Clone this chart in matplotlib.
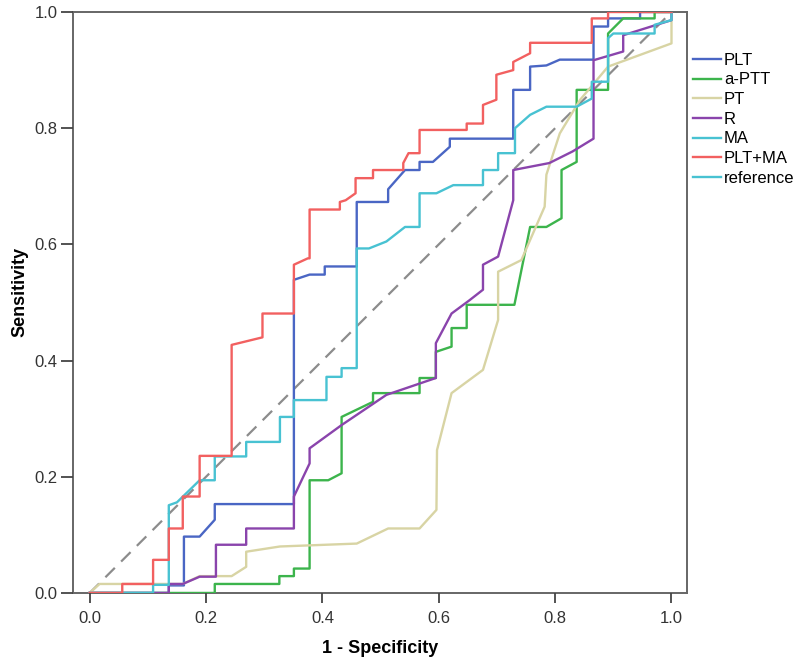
#ROC curves for PLT, a-PTT, PT, R, MA and PLT+MA
import matplotlib.pyplot as plt
from matplotlib.lines import Line2D

plt.rcParams['font.family'] = ['Liberation Sans', 'DejaVu Sans']

#points (1 - specificity, sensitivity)
plt_x = [0, 0.136, 0.136, 0.162, 0.162, 0.189, 0.215, 0.215, 0.351, 0.351, 0.378, 0.404, 0.404,
         0.459, 0.459, 0.513, 0.513, 0.542, 0.567, 0.567, 0.590, 0.619, 0.619, 0.728, 0.728,
         0.757, 0.757, 0.785, 0.808, 0.866, 0.866, 0.891, 0.891, 0.946, 0.946, 1.0]
plt_y = [0, 0, 0.013, 0.013, 0.097, 0.097, 0.126, 0.153, 0.153, 0.539, 0.548, 0.548, 0.562,
         0.562, 0.673, 0.673, 0.695, 0.728, 0.728, 0.742, 0.742, 0.768, 0.782, 0.782, 0.866,
         0.866, 0.906, 0.908, 0.918, 0.918, 0.975, 0.975, 0.989, 0.989, 1.0, 1.0]

aptt_x = [0, 0.215, 0.215, 0.326, 0.326, 0.351, 0.351, 0.378, 0.378, 0.410, 0.433, 0.433,
          0.487, 0.487, 0.567, 0.567, 0.595, 0.595, 0.622, 0.622, 0.648, 0.648, 0.730, 0.757,
          0.785, 0.811, 0.811, 0.837, 0.837, 0.891, 0.891, 0.917, 0.971, 0.971, 1.0]
aptt_y = [0, 0, 0.0155, 0.0155, 0.029, 0.029, 0.042, 0.042, 0.194, 0.194, 0.206, 0.303,
          0.329, 0.344, 0.344, 0.370, 0.370, 0.415, 0.424, 0.456, 0.456, 0.496, 0.496, 0.630,
          0.630, 0.645, 0.728, 0.742, 0.866, 0.866, 0.963, 0.989, 0.989, 1.0, 1.0]

pt_x = [0, 0.017, 0.160, 0.189, 0.244, 0.269, 0.269, 0.327, 0.459, 0.513, 0.567, 0.596,
        0.597, 0.622, 0.676, 0.702, 0.702, 0.742, 0.782, 0.785, 0.808, 0.843, 0.891, 1.0, 1.0]
pt_y = [0, 0.0155, 0.0155, 0.029, 0.029, 0.045, 0.071, 0.080, 0.085, 0.111, 0.111, 0.143,
        0.246, 0.344, 0.384, 0.470, 0.553, 0.573, 0.665, 0.720, 0.791, 0.849, 0.906, 0.946, 1.0]

r_x = [0, 0.136, 0.136, 0.160, 0.189, 0.217, 0.217, 0.269, 0.269, 0.351, 0.351, 0.378, 0.378,
       0.433, 0.510, 0.595, 0.595, 0.622, 0.653, 0.676, 0.676, 0.702, 0.728, 0.728, 0.790,
       0.830, 0.866, 0.866, 0.917, 0.917, 1.0, 1.0]
r_y = [0, 0, 0.0155, 0.0155, 0.028, 0.028, 0.083, 0.083, 0.111, 0.111, 0.166, 0.223, 0.249,
       0.289, 0.341, 0.370, 0.430, 0.481, 0.504, 0.522, 0.565, 0.579, 0.676, 0.728, 0.740,
       0.760, 0.782, 0.917, 0.932, 0.960, 0.986, 1.0]

ma_x = [0, 0.109, 0.109, 0.136, 0.136, 0.150, 0.189, 0.215, 0.215, 0.269, 0.269, 0.327, 0.327,
        0.351, 0.351, 0.407, 0.407, 0.433, 0.433, 0.459, 0.459, 0.480, 0.510, 0.542, 0.567,
        0.567, 0.596, 0.625, 0.676, 0.676, 0.702, 0.702, 0.731, 0.731, 0.757, 0.785, 0.837,
        0.863, 0.863, 0.891, 0.891, 0.900, 0.971, 0.971, 1.0, 1.0]
ma_y = [0, 0, 0.014, 0.014, 0.151, 0.156, 0.194, 0.194, 0.235, 0.235, 0.260, 0.260, 0.303,
        0.303, 0.332, 0.332, 0.372, 0.372, 0.387, 0.387, 0.593, 0.593, 0.605, 0.630, 0.630,
        0.688, 0.688, 0.702, 0.702, 0.728, 0.728, 0.757, 0.757, 0.800, 0.823, 0.837, 0.837,
        0.851, 0.880, 0.880, 0.955, 0.963, 0.963, 0.978, 0.986, 1.0]

pltma_x = [0, 0.056, 0.056, 0.109, 0.109, 0.136, 0.136, 0.160, 0.160, 0.189, 0.189, 0.244,
           0.244, 0.297, 0.297, 0.351, 0.351, 0.375, 0.378, 0.378, 0.430, 0.430, 0.440, 0.457,
           0.457, 0.487, 0.487, 0.539, 0.539, 0.548, 0.567, 0.567, 0.648, 0.648, 0.676, 0.676,
           0.699, 0.699, 0.728, 0.728, 0.757, 0.757, 0.863, 0.863, 0.891, 0.891, 1.0]
pltma_y = [0, 0, 0.0155, 0.0155, 0.057, 0.057, 0.111, 0.111, 0.166, 0.166, 0.236, 0.236,
           0.427, 0.440, 0.481, 0.481, 0.565, 0.576, 0.576, 0.660, 0.660, 0.673, 0.676, 0.688,
           0.714, 0.714, 0.728, 0.728, 0.740, 0.757, 0.757, 0.797, 0.797, 0.808, 0.808, 0.840,
           0.849, 0.892, 0.900, 0.914, 0.929, 0.947, 0.947, 0.989, 0.989, 1.0, 1.0]

ref_x = [0, 1]
ref_y = [0, 1]

names = ['PLT', 'a-PTT', 'PT', 'R', 'MA', 'PLT+MA']
colors = ['#4a66c4', '#3cb44c', '#d8d4a4', '#8a44ac', '#48c2d2', '#f26060']
curves = [(plt_x, plt_y), (aptt_x, aptt_y), (pt_x, pt_y), (r_x, r_y), (ma_x, ma_y), (pltma_x, pltma_y)]

fig = plt.figure(figsize=(8, 6.67), dpi=100)
ax = fig.add_axes([0.091, 0.111, 0.768, 0.871])

#grey dashed diagonal
ax.plot(ref_x, ref_y, color='#8c8c8c', lw=1.6, linestyle=(0, (6, 4)))

handles = []
for (xs, ys), name, c in zip(curves, names, colors):
    line, = ax.plot(xs, ys, color=c, lw=1.7, label=name)
    handles.append(line)
handles.append(Line2D([], [], color='#48c2d2', lw=1.7, label='reference'))

ax.set_xlim(-0.029, 1.027)
ax.set_ylim(0, 1.0)
ax.set_xticks([0, 0.2, 0.4, 0.6, 0.8, 1.0])
ax.set_yticks([0, 0.2, 0.4, 0.6, 0.8, 1.0])
ax.set_xticklabels(['0.0', '0.2', '0.4', '0.6', '0.8', '1.0'])
ax.set_yticklabels(['0.0', '0.2', '0.4', '0.6', '0.8', '1.0'])
ax.tick_params(direction='out', width=1.3, color='#444444',
               labelsize=12, labelcolor='#333333')
ax.tick_params(axis='x', length=7, pad=6)
ax.tick_params(axis='y', length=9, pad=2)
for s in ax.spines.values():
    s.set_color('#666666')
    s.set_linewidth(1.4)
    s.set_zorder(0.5)

ax.set_xlabel('1 - Specificity', fontsize=13, fontweight='bold', labelpad=10)
ax.set_ylabel('Sensitivity', fontsize=13, fontweight='bold')
ax.yaxis.set_label_coords(-0.072, 0.518)

fig.legend(handles=handles, loc='upper left', bbox_to_anchor=(0.858, 0.931),
           frameon=False, fontsize=12, handlelength=1.7, handletextpad=0.15,
           labelspacing=0.28, borderaxespad=0)

plt.savefig('out.png', dpi=100)
